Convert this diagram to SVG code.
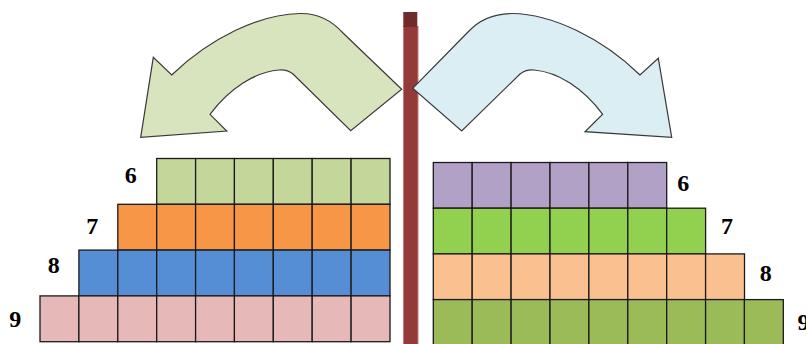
<svg xmlns="http://www.w3.org/2000/svg" width="806" height="344" viewBox="0 0 806 344">
<style>
.cell{stroke:#1a1a1a;stroke-width:1.3}
.g6{fill:#c4d79b}.o7{fill:#f79646}.b8{fill:#558ed5}.p9{fill:#e6b9b8}
.v6{fill:#b2a1c7}.l7{fill:#92d050}.c8{fill:#fac090}.d9{fill:#9bbb59}
.num{font-family:"Liberation Serif","Times New Roman",serif;font-weight:bold;font-size:24px;fill:#000;text-anchor:middle}
.arrow{stroke:#3a3a3a;stroke-width:1.2;stroke-linejoin:miter}
</style>
<rect width="806" height="344" fill="#fff"/>
<g id="pole">
<rect x="403.5" y="26.5" width="14.5" height="320" fill="#943a39" stroke="#c47a78" stroke-width="1"/>
<rect x="403.3" y="12" width="14" height="15" fill="#6f2a29"/>
</g>
<g id="arrow-left">
<path class="arrow" fill="#d7e4bd" d="M171.7,75 C210,38 260,14 300,13.5 C320,13 333,22 343,33 L401.7,89.3 L350.7,130.7 L293,74 C288,70 284,69.5 279,70 C255,72 230,88 210,114.3 L226.7,131 L140.7,137.3 L153.3,57.3 Z"/>
</g>
<g id="arrow-right">
<path class="arrow" fill="#dbeef4" d="M412.7,88.3 L468,32 C478,21 492,13.5 512,13.5 C552,14 602,38 640,75 L658.3,58.3 L671.7,137.3 L585,131.7 L602.7,114.3 C583,88 558,72 534,70 C529,69.5 525,70 520,74 L461.7,131 Z"/>
</g>
<g id="left-row-6">
<rect class="cell g6" x="156.7" y="158.5" width="38.9" height="45.8"/>
<rect class="cell g6" x="195.6" y="158.5" width="38.9" height="45.8"/>
<rect class="cell g6" x="234.4" y="158.5" width="38.9" height="45.8"/>
<rect class="cell g6" x="273.3" y="158.5" width="38.9" height="45.8"/>
<rect class="cell g6" x="312.2" y="158.5" width="38.9" height="45.8"/>
<rect class="cell g6" x="351.1" y="158.5" width="38.9" height="45.8"/>
<text class="num" x="130.7" y="183.3">6</text>
</g>
<g id="left-row-7">
<rect class="cell o7" x="117.8" y="204.3" width="38.9" height="45.8"/>
<rect class="cell o7" x="156.7" y="204.3" width="38.9" height="45.8"/>
<rect class="cell o7" x="195.6" y="204.3" width="38.9" height="45.8"/>
<rect class="cell o7" x="234.4" y="204.3" width="38.9" height="45.8"/>
<rect class="cell o7" x="273.3" y="204.3" width="38.9" height="45.8"/>
<rect class="cell o7" x="312.2" y="204.3" width="38.9" height="45.8"/>
<rect class="cell o7" x="351.1" y="204.3" width="38.9" height="45.8"/>
<text class="num" x="92.3" y="234.3">7</text>
</g>
<g id="left-row-8">
<rect class="cell b8" x="78.9" y="250.1" width="38.9" height="45.8"/>
<rect class="cell b8" x="117.8" y="250.1" width="38.9" height="45.8"/>
<rect class="cell b8" x="156.7" y="250.1" width="38.9" height="45.8"/>
<rect class="cell b8" x="195.6" y="250.1" width="38.9" height="45.8"/>
<rect class="cell b8" x="234.4" y="250.1" width="38.9" height="45.8"/>
<rect class="cell b8" x="273.3" y="250.1" width="38.9" height="45.8"/>
<rect class="cell b8" x="312.2" y="250.1" width="38.9" height="45.8"/>
<rect class="cell b8" x="351.1" y="250.1" width="38.9" height="45.8"/>
<text class="num" x="53.8" y="273.3">8</text>
</g>
<g id="left-row-9">
<rect class="cell p9" x="40" y="295.9" width="38.9" height="45.8"/>
<rect class="cell p9" x="78.9" y="295.9" width="38.9" height="45.8"/>
<rect class="cell p9" x="117.8" y="295.9" width="38.9" height="45.8"/>
<rect class="cell p9" x="156.7" y="295.9" width="38.9" height="45.8"/>
<rect class="cell p9" x="195.6" y="295.9" width="38.9" height="45.8"/>
<rect class="cell p9" x="234.4" y="295.9" width="38.9" height="45.8"/>
<rect class="cell p9" x="273.3" y="295.9" width="38.9" height="45.8"/>
<rect class="cell p9" x="312.2" y="295.9" width="38.9" height="45.8"/>
<rect class="cell p9" x="351.1" y="295.9" width="38.9" height="45.8"/>
<text class="num" x="15.3" y="326.7">9</text>
</g>
<g id="right-row-6">
<rect class="cell v6" x="433.3" y="162.5" width="38.9" height="45.7"/>
<rect class="cell v6" x="472.2" y="162.5" width="38.9" height="45.7"/>
<rect class="cell v6" x="511.1" y="162.5" width="38.9" height="45.7"/>
<rect class="cell v6" x="550" y="162.5" width="38.9" height="45.7"/>
<rect class="cell v6" x="588.9" y="162.5" width="38.9" height="45.7"/>
<rect class="cell v6" x="627.8" y="162.5" width="38.9" height="45.7"/>
<text class="num" x="683.3" y="190.7">6</text>
</g>
<g id="right-row-7">
<rect class="cell l7" x="433.3" y="208.2" width="38.9" height="45.7"/>
<rect class="cell l7" x="472.2" y="208.2" width="38.9" height="45.7"/>
<rect class="cell l7" x="511.1" y="208.2" width="38.9" height="45.7"/>
<rect class="cell l7" x="550" y="208.2" width="38.9" height="45.7"/>
<rect class="cell l7" x="588.9" y="208.2" width="38.9" height="45.7"/>
<rect class="cell l7" x="627.8" y="208.2" width="38.9" height="45.7"/>
<rect class="cell l7" x="666.7" y="208.2" width="38.9" height="45.7"/>
<text class="num" x="727" y="234.3">7</text>
</g>
<g id="right-row-8">
<rect class="cell c8" x="433.3" y="253.9" width="38.9" height="45.7"/>
<rect class="cell c8" x="472.2" y="253.9" width="38.9" height="45.7"/>
<rect class="cell c8" x="511.1" y="253.9" width="38.9" height="45.7"/>
<rect class="cell c8" x="550" y="253.9" width="38.9" height="45.7"/>
<rect class="cell c8" x="588.9" y="253.9" width="38.9" height="45.7"/>
<rect class="cell c8" x="627.8" y="253.9" width="38.9" height="45.7"/>
<rect class="cell c8" x="666.7" y="253.9" width="38.9" height="45.7"/>
<rect class="cell c8" x="705.6" y="253.9" width="38.9" height="45.7"/>
<text class="num" x="765.8" y="280.7">8</text>
</g>
<g id="right-row-9">
<rect class="cell d9" x="433.3" y="299.6" width="38.9" height="45.7"/>
<rect class="cell d9" x="472.2" y="299.6" width="38.9" height="45.7"/>
<rect class="cell d9" x="511.1" y="299.6" width="38.9" height="45.7"/>
<rect class="cell d9" x="550" y="299.6" width="38.9" height="45.7"/>
<rect class="cell d9" x="588.9" y="299.6" width="38.9" height="45.7"/>
<rect class="cell d9" x="627.8" y="299.6" width="38.9" height="45.7"/>
<rect class="cell d9" x="666.7" y="299.6" width="38.9" height="45.7"/>
<rect class="cell d9" x="705.6" y="299.6" width="38.9" height="45.7"/>
<rect class="cell d9" x="744.4" y="299.6" width="38.9" height="45.7"/>
<text class="num" x="803.5" y="330">9</text>
</g>
</svg>
